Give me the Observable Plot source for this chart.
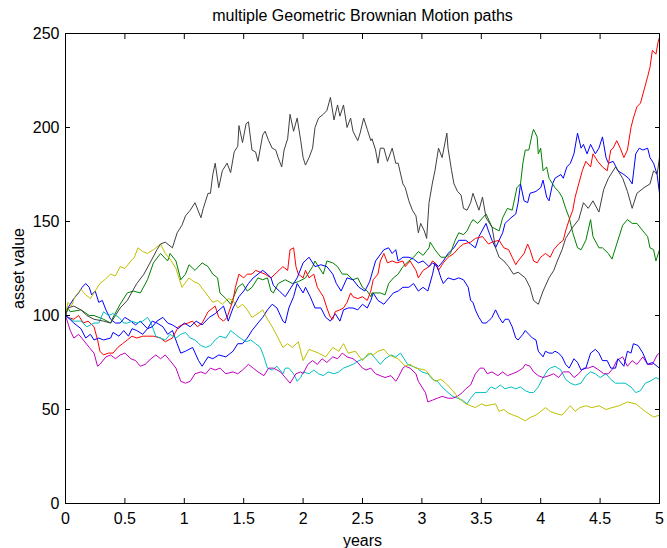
<!DOCTYPE html>
<html><head><meta charset="utf-8">
<script src="https://cdn.jsdelivr.net/npm/d3@7"></script>
<script src="https://cdn.jsdelivr.net/npm/@observablehq/plot@0.6"></script>
<style>body{margin:0;background:#fff} svg{display:block}</style>
</head><body><div id="chart"></div>
<script>
const title = "multiple Geometric Brownian Motion paths";
const xLabel = "years";
const yLabel = "asset value";
const xTicks = [0, 0.5, 1, 1.5, 2, 2.5, 3, 3.5, 4, 4.5, 5];
const yTicks = [0, 50, 100, 150, 200, 250];
const seriesNames = ["path 1", "path 2", "path 3", "path 4", "path 5", "path 6", "path 7", "path 8"];
const seriesColors = ["#0000ff", "#008000", "#ff0000", "#00bfbf", "#bf00bf", "#bfbf00", "#404040", "#0000ff"];

// [years, asset value]
const path1 = [[0,100],[0.02,104],[0.07,109],[0.11,112],[0.14,115],[0.17,117],[0.2,115],[0.22,111],[0.25,113],[0.28,107],[0.31,108],[0.34,103],[0.38,98],[0.42,96],[0.46,96],[0.5,99],[0.55,97],[0.59,95],[0.63,97],[0.69,93],[0.73,97],[0.77,96],[0.82,94],[0.86,90],[0.9,92],[0.94,85],[0.97,80],[1.01,81],[1.07,83],[1.12,76],[1.15,73],[1.2,78],[1.24,77],[1.29,79],[1.35,78],[1.41,81],[1.45,85],[1.49,85],[1.53,88],[1.57,92],[1.62,96],[1.66,99],[1.7,103],[1.74,106],[1.78,104],[1.83,97],[1.85,96],[1.88,104],[1.92,110],[1.95,117],[2.0,112],[2.02,115],[2.06,110],[2.1,104],[2.15,104],[2.19,99],[2.23,97],[2.27,101],[2.31,97],[2.34,103],[2.38,104],[2.42,104],[2.46,103],[2.5,106],[2.54,104],[2.57,108],[2.59,112],[2.63,108],[2.68,106],[2.72,109],[2.76,112],[2.8,113],[2.84,115],[2.89,115],[2.93,117],[2.97,113],[3.01,115],[3.05,113],[3.09,122],[3.11,128],[3.14,126],[3.18,129],[3.22,133],[3.27,136],[3.31,140],[3.37,140],[3.41,138],[3.45,136],[3.48,142],[3.54,149],[3.56,145],[3.59,140],[3.62,136],[3.68,144],[3.7,149],[3.75,152],[3.79,154],[3.81,160],[3.83,170],[3.86,161],[3.89,160],[3.91,165],[3.96,166],[4.0,168],[4.02,172],[4.05,163],[4.07,161],[4.1,170],[4.12,173],[4.17,175],[4.19,173],[4.22,179],[4.25,181],[4.28,186],[4.31,197],[4.34,189],[4.36,191],[4.39,186],[4.42,191],[4.46,186],[4.49,189],[4.52,195],[4.55,184],[4.57,181],[4.61,182],[4.65,177],[4.7,175],[4.74,173],[4.77,170],[4.8,186],[4.83,189],[4.86,188],[4.9,189],[4.92,184],[4.95,181],[4.98,175],[5.0,165]];
const path2 = [[0,100],[0.02,104],[0.04,102],[0.13,103],[0.2,100],[0.24,100],[0.32,98],[0.38,96],[0.4,99],[0.46,106],[0.52,112],[0.57,113],[0.63,112],[0.69,119],[0.74,128],[0.8,133],[0.86,129],[0.88,133],[0.93,129],[0.97,119],[1.01,122],[1.04,127],[1.09,124],[1.15,128],[1.2,126],[1.24,122],[1.28,120],[1.3,112],[1.35,109],[1.39,106],[1.41,109],[1.45,115],[1.49,117],[1.53,113],[1.57,115],[1.62,120],[1.66,119],[1.7,120],[1.73,113],[1.75,112],[1.79,117],[1.85,119],[1.91,117],[1.96,118],[2.02,120],[2.08,126],[2.1,129],[2.13,126],[2.17,122],[2.2,129],[2.25,128],[2.29,126],[2.33,122],[2.37,122],[2.42,119],[2.46,120],[2.5,115],[2.54,113],[2.57,110],[2.58,112],[2.65,112],[2.69,111],[2.72,117],[2.76,120],[2.8,122],[2.84,126],[2.89,129],[2.93,131],[2.97,134],[3.01,132],[3.06,136],[3.07,139],[3.11,135],[3.16,131],[3.2,131],[3.24,133],[3.28,140],[3.31,144],[3.35,143],[3.38,145],[3.41,149],[3.43,151],[3.47,149],[3.54,154],[3.59,147],[3.65,145],[3.68,152],[3.72,157],[3.76,156],[3.8,168],[3.83,170],[3.85,181],[3.87,188],[3.9,188],[3.93,197],[3.94,199],[3.97,195],[3.98,186],[4.0,189],[4.02,177],[4.05,179],[4.07,173],[4.1,170],[4.12,168],[4.15,166],[4.18,163],[4.21,157],[4.24,152],[4.27,144],[4.31,136],[4.34,135],[4.38,140],[4.42,151],[4.44,142],[4.49,136],[4.52,136],[4.57,133],[4.6,130],[4.65,140],[4.69,148],[4.73,151],[4.77,149],[4.81,149],[4.86,145],[4.9,142],[4.92,136],[4.95,135],[4.97,129],[5.0,135]];
const path3 = [[0,100],[0.02,99],[0.07,98],[0.11,100],[0.15,96],[0.19,97],[0.24,94],[0.27,87],[0.29,81],[0.32,79],[0.36,80],[0.4,80],[0.44,83],[0.48,85],[0.52,87],[0.56,89],[0.6,88],[0.65,89],[0.69,89],[0.74,89],[0.8,88],[0.84,86],[0.9,88],[0.95,94],[0.98,95],[1.03,96],[1.07,97],[1.11,94],[1.15,96],[1.2,102],[1.24,104],[1.26,105],[1.29,99],[1.33,97],[1.36,99],[1.41,108],[1.43,115],[1.46,122],[1.5,120],[1.53,122],[1.57,122],[1.6,124],[1.64,123],[1.68,122],[1.73,120],[1.78,123],[1.83,126],[1.87,124],[1.89,135],[1.92,136],[1.94,126],[1.96,122],[2.0,120],[2.02,124],[2.05,120],[2.09,122],[2.12,115],[2.15,112],[2.17,110],[2.2,104],[2.23,99],[2.25,98],[2.27,102],[2.31,103],[2.34,104],[2.37,107],[2.4,112],[2.42,110],[2.46,109],[2.5,110],[2.54,108],[2.57,113],[2.59,119],[2.63,122],[2.65,129],[2.68,133],[2.71,128],[2.75,129],[2.79,128],[2.84,129],[2.86,126],[2.9,129],[2.95,124],[2.97,120],[3.01,124],[3.06,126],[3.09,129],[3.11,128],[3.14,124],[3.18,128],[3.22,131],[3.27,133],[3.31,136],[3.35,138],[3.41,139],[3.45,141],[3.51,142],[3.56,138],[3.59,139],[3.65,140],[3.69,136],[3.73,135],[3.76,131],[3.79,127],[3.81,129],[3.86,133],[3.89,138],[3.91,135],[3.94,129],[3.97,128],[4.0,131],[4.04,133],[4.08,131],[4.11,135],[4.15,138],[4.19,140],[4.21,145],[4.24,151],[4.27,156],[4.29,163],[4.32,170],[4.35,177],[4.38,182],[4.42,179],[4.44,186],[4.48,182],[4.52,179],[4.56,177],[4.59,188],[4.61,189],[4.64,193],[4.67,189],[4.7,184],[4.73,188],[4.76,200],[4.78,205],[4.81,211],[4.84,213],[4.87,220],[4.9,227],[4.92,232],[4.94,241],[4.97,239],[4.99,246],[5.0,248]];
const path4 = [[0,100],[0.02,99],[0.07,97],[0.13,97],[0.18,94],[0.24,96],[0.28,96],[0.32,102],[0.36,100],[0.4,101],[0.45,99],[0.49,96],[0.52,96],[0.56,97],[0.6,96],[0.65,97],[0.69,99],[0.72,96],[0.76,89],[0.8,88],[0.84,87],[0.88,90],[0.93,88],[0.97,90],[1.01,91],[1.05,88],[1.09,87],[1.14,84],[1.18,83],[1.22,84],[1.26,87],[1.3,89],[1.35,88],[1.39,92],[1.43,90],[1.47,88],[1.52,86],[1.56,87],[1.6,85],[1.64,83],[1.67,78],[1.7,72],[1.74,71],[1.78,73],[1.83,69],[1.85,72],[1.88,72],[1.92,69],[1.95,65],[1.98,67],[2.0,70],[2.05,69],[2.09,71],[2.13,69],[2.17,68],[2.21,70],[2.26,69],[2.3,70],[2.34,72],[2.38,73],[2.42,74],[2.47,76],[2.51,77],[2.57,80],[2.61,77],[2.65,74],[2.69,77],[2.74,79],[2.78,78],[2.82,80],[2.85,77],[2.88,74],[2.92,73],[2.96,72],[3.0,70],[3.05,69],[3.09,66],[3.13,65],[3.17,62],[3.22,59],[3.26,57],[3.3,56],[3.34,55],[3.38,53],[3.41,56],[3.45,59],[3.49,59],[3.54,59],[3.58,62],[3.62,61],[3.66,63],[3.7,61],[3.75,62],[3.79,61],[3.83,62],[3.87,60],[3.91,59],[3.94,59],[3.98,62],[4.02,67],[4.06,71],[4.08,72],[4.12,73],[4.17,71],[4.21,66],[4.25,64],[4.29,63],[4.34,64],[4.38,68],[4.42,70],[4.46,69],[4.5,67],[4.55,69],[4.59,66],[4.63,64],[4.67,64],[4.71,64],[4.76,62],[4.8,59],[4.84,60],[4.88,64],[4.92,65],[4.97,67],[5.0,66]];
const path5 = [[0,100],[0.02,96],[0.04,92],[0.07,88],[0.11,90],[0.15,87],[0.2,83],[0.24,80],[0.27,73],[0.29,74],[0.34,78],[0.38,79],[0.42,77],[0.46,79],[0.5,80],[0.55,77],[0.59,76],[0.63,73],[0.67,74],[0.72,77],[0.76,79],[0.8,77],[0.84,79],[0.88,76],[0.93,72],[0.97,65],[1.01,64],[1.05,65],[1.09,69],[1.14,70],[1.18,69],[1.22,72],[1.26,71],[1.3,72],[1.35,69],[1.41,70],[1.45,69],[1.49,71],[1.54,74],[1.58,72],[1.62,70],[1.67,68],[1.71,72],[1.75,72],[1.81,70],[1.85,67],[1.89,64],[1.94,69],[1.98,70],[2.0,69],[2.04,74],[2.08,76],[2.12,74],[2.16,77],[2.2,75],[2.25,78],[2.29,77],[2.33,80],[2.37,78],[2.42,77],[2.46,75],[2.5,72],[2.53,71],[2.57,72],[2.61,69],[2.65,68],[2.69,67],[2.74,68],[2.78,65],[2.8,67],[2.84,72],[2.86,73],[2.9,72],[2.95,69],[2.97,65],[3.0,62],[3.03,59],[3.05,54],[3.09,55],[3.13,56],[3.17,57],[3.22,56],[3.26,56],[3.3,57],[3.34,59],[3.37,61],[3.41,63],[3.45,69],[3.49,72],[3.52,72],[3.55,69],[3.59,70],[3.64,68],[3.68,70],[3.72,68],[3.76,69],[3.8,70],[3.85,72],[3.87,74],[3.91,73],[3.94,70],[3.98,68],[4.02,67],[4.07,68],[4.11,69],[4.15,67],[4.19,70],[4.24,70],[4.28,67],[4.32,69],[4.36,72],[4.4,72],[4.44,73],[4.49,71],[4.53,69],[4.57,69],[4.61,72],[4.64,76],[4.69,78],[4.73,73],[4.77,76],[4.81,74],[4.86,78],[4.9,74],[4.94,74],[4.98,79],[5.0,80]];
const path6 = [[0,100],[0.02,107],[0.05,105],[0.08,110],[0.13,114],[0.17,111],[0.21,109],[0.25,113],[0.29,117],[0.33,119],[0.38,122],[0.42,121],[0.46,126],[0.5,125],[0.55,129],[0.58,131],[0.61,136],[0.65,134],[0.69,133],[0.74,135],[0.8,138],[0.84,133],[0.88,130],[0.93,125],[0.98,115],[1.04,120],[1.08,118],[1.12,117],[1.18,112],[1.24,107],[1.28,108],[1.32,106],[1.37,109],[1.41,108],[1.45,104],[1.49,106],[1.53,103],[1.57,99],[1.62,101],[1.66,103],[1.7,98],[1.74,94],[1.79,88],[1.83,83],[1.87,85],[1.91,83],[1.96,86],[2.0,76],[2.05,82],[2.09,81],[2.13,80],[2.19,78],[2.25,83],[2.3,81],[2.34,85],[2.38,80],[2.44,81],[2.5,76],[2.55,80],[2.59,79],[2.63,81],[2.68,82],[2.72,79],[2.76,78],[2.8,77],[2.86,73],[2.9,74],[2.95,72],[3.03,71],[3.07,68],[3.11,65],[3.16,66],[3.2,64],[3.26,60],[3.31,56],[3.37,53],[3.41,52],[3.45,51],[3.5,53],[3.54,52],[3.62,53],[3.65,49],[3.69,50],[3.73,48],[3.77,47],[3.81,46],[3.87,44],[3.92,46],[3.96,47],[4.0,49],[4.04,51],[4.08,49],[4.12,48],[4.18,47],[4.25,52],[4.29,49],[4.33,51],[4.38,52],[4.43,51],[4.49,52],[4.55,50],[4.6,51],[4.66,52],[4.73,54],[4.8,53],[4.84,51],[4.88,49],[4.95,46],[5.0,47]];
const path7 = [[0,100],[0.02,104],[0.07,105],[0.13,103],[0.18,100],[0.24,98],[0.32,97],[0.38,96],[0.42,100],[0.46,104],[0.52,108],[0.6,117],[0.66,122],[0.72,129],[0.77,135],[0.8,138],[0.84,139],[0.9,136],[0.94,144],[0.98,148],[1.01,153],[1.05,156],[1.09,160],[1.14,152],[1.16,157],[1.2,165],[1.22,165],[1.24,175],[1.26,181],[1.29,168],[1.32,177],[1.36,181],[1.39,176],[1.42,187],[1.45,190],[1.46,201],[1.49,192],[1.52,202],[1.54,203],[1.57,188],[1.6,187],[1.62,182],[1.66,196],[1.68,198],[1.71,193],[1.74,189],[1.77,188],[1.79,184],[1.82,179],[1.84,188],[1.87,194],[1.89,207],[1.92,198],[1.95,205],[1.98,193],[2.0,184],[2.02,180],[2.05,184],[2.08,189],[2.1,200],[2.13,205],[2.17,207],[2.2,209],[2.23,216],[2.26,204],[2.29,212],[2.31,206],[2.34,212],[2.37,200],[2.4,205],[2.42,198],[2.46,193],[2.48,197],[2.51,205],[2.54,199],[2.57,193],[2.58,194],[2.61,188],[2.63,181],[2.65,189],[2.68,189],[2.71,182],[2.75,189],[2.78,181],[2.8,181],[2.84,170],[2.86,168],[2.89,161],[2.92,156],[2.95,153],[2.97,144],[2.99,149],[3.02,145],[3.04,141],[3.06,160],[3.09,171],[3.11,177],[3.14,189],[3.17,184],[3.21,197],[3.22,189],[3.25,177],[3.27,170],[3.3,166],[3.33,164],[3.35,157],[3.38,156],[3.41,160],[3.43,165],[3.48,156],[3.51,163],[3.54,152],[3.59,147],[3.62,136],[3.65,131],[3.69,129],[3.73,126],[3.77,122],[3.81,123],[3.87,120],[3.91,115],[3.94,108],[3.98,106],[4.02,113],[4.07,120],[4.11,124],[4.14,129],[4.18,135],[4.21,141],[4.27,147],[4.32,151],[4.36,160],[4.4,157],[4.44,161],[4.49,155],[4.53,167],[4.57,173],[4.63,179],[4.69,173],[4.73,166],[4.77,157],[4.81,165],[4.87,168],[4.92,170],[4.95,177],[4.98,175],[5.0,184]];
const path8 = [[0,100],[0.02,99],[0.07,96],[0.13,93],[0.17,88],[0.21,90],[0.24,87],[0.28,88],[0.32,87],[0.38,88],[0.4,91],[0.45,89],[0.49,92],[0.53,89],[0.56,93],[0.6,92],[0.65,90],[0.69,93],[0.73,94],[0.77,97],[0.82,99],[0.86,96],[0.9,95],[0.95,93],[1.0,96],[1.05,94],[1.1,97],[1.15,95],[1.21,99],[1.26,101],[1.33,105],[1.37,97],[1.41,104],[1.46,110],[1.5,113],[1.54,117],[1.58,120],[1.62,122],[1.66,124],[1.7,122],[1.73,120],[1.75,116],[1.8,113],[1.85,110],[1.9,115],[1.95,120],[2.0,128],[2.05,131],[2.1,126],[2.15,127],[2.2,126],[2.25,122],[2.28,117],[2.32,113],[2.37,120],[2.42,119],[2.47,115],[2.52,113],[2.56,118],[2.61,129],[2.68,135],[2.72,136],[2.75,133],[2.78,135],[2.8,129],[2.84,131],[2.89,131],[2.93,130],[2.97,128],[3.01,129],[3.06,126],[3.09,128],[3.13,126],[3.16,120],[3.18,117],[3.22,120],[3.27,119],[3.31,120],[3.35,119],[3.39,115],[3.41,108],[3.43,107],[3.45,103],[3.48,99],[3.51,96],[3.54,96],[3.56,97],[3.59,99],[3.62,103],[3.65,99],[3.68,96],[3.7,98],[3.73,98],[3.76,94],[3.79,88],[3.81,87],[3.85,90],[3.87,92],[3.9,90],[3.93,88],[3.96,87],[3.98,81],[4.02,78],[4.04,81],[4.07,80],[4.1,80],[4.12,81],[4.15,80],[4.18,78],[4.21,74],[4.24,72],[4.28,77],[4.31,75],[4.34,71],[4.38,72],[4.42,80],[4.46,82],[4.49,80],[4.52,76],[4.56,76],[4.59,72],[4.63,72],[4.65,77],[4.7,73],[4.73,81],[4.76,80],[4.78,85],[4.82,84],[4.86,80],[4.9,74],[4.94,75],[4.98,73],[5.0,72]];

const paths = [path1, path2, path3, path4, path5, path6, path7, path8];
const rows = paths.flatMap((p, i) => p.map(([t, v]) => ({t, v, s: seriesNames[i]})));

const chart = Plot.plot({
  width: 667, height: 548,
  marginLeft: 65, marginRight: 8, marginTop: 33, marginBottom: 45,
  style: {fontFamily: "'Liberation Sans', Arial, Helvetica, sans-serif", fontSize: "16px", background: "#fff", color: "#000"},
  x: {domain: [0, 5]},
  y: {domain: [0, 250]},
  color: {domain: seriesNames, range: seriesColors},
  marks: [
    Plot.line(rows, {x: "t", y: "v", z: "s", stroke: "s", strokeWidth: 1}),
    Plot.frame({stroke: "#000", strokeWidth: 1}),
    Plot.axisX(xTicks, {anchor: "bottom", tickSize: 5, dy: -5, tickFormat: () => "", label: null}),
    Plot.axisX(xTicks, {anchor: "top", tickSize: 5, dy: 5, tickFormat: () => "", label: null}),
    Plot.axisY(yTicks, {anchor: "left", tickSize: 5, dx: 5, tickFormat: () => "", label: null}),
    Plot.axisY(yTicks, {anchor: "right", tickSize: 5, dx: -5, tickFormat: () => "", label: null}),
    Plot.axisX(xTicks, {anchor: "bottom", tickSize: 0, tickPadding: 9, tickFormat: d => String(d), label: null, fontSize: 16}),
    Plot.axisY(yTicks, {anchor: "left", tickSize: 0, tickPadding: 6, tickFormat: d => String(d), label: null, fontSize: 16}),
    Plot.text([title], {frameAnchor: "top", dy: -18, lineAnchor: "middle", textAnchor: "middle", fontSize: 16}),
    Plot.text([xLabel], {frameAnchor: "bottom", dy: 37, lineAnchor: "middle", textAnchor: "middle", fontSize: 16}),
    Plot.text([yLabel], {frameAnchor: "left", dx: -47, rotate: -90, lineAnchor: "middle", textAnchor: "middle", fontSize: 16})
  ]
});
document.getElementById("chart").appendChild(chart);
</script>
</body></html>
